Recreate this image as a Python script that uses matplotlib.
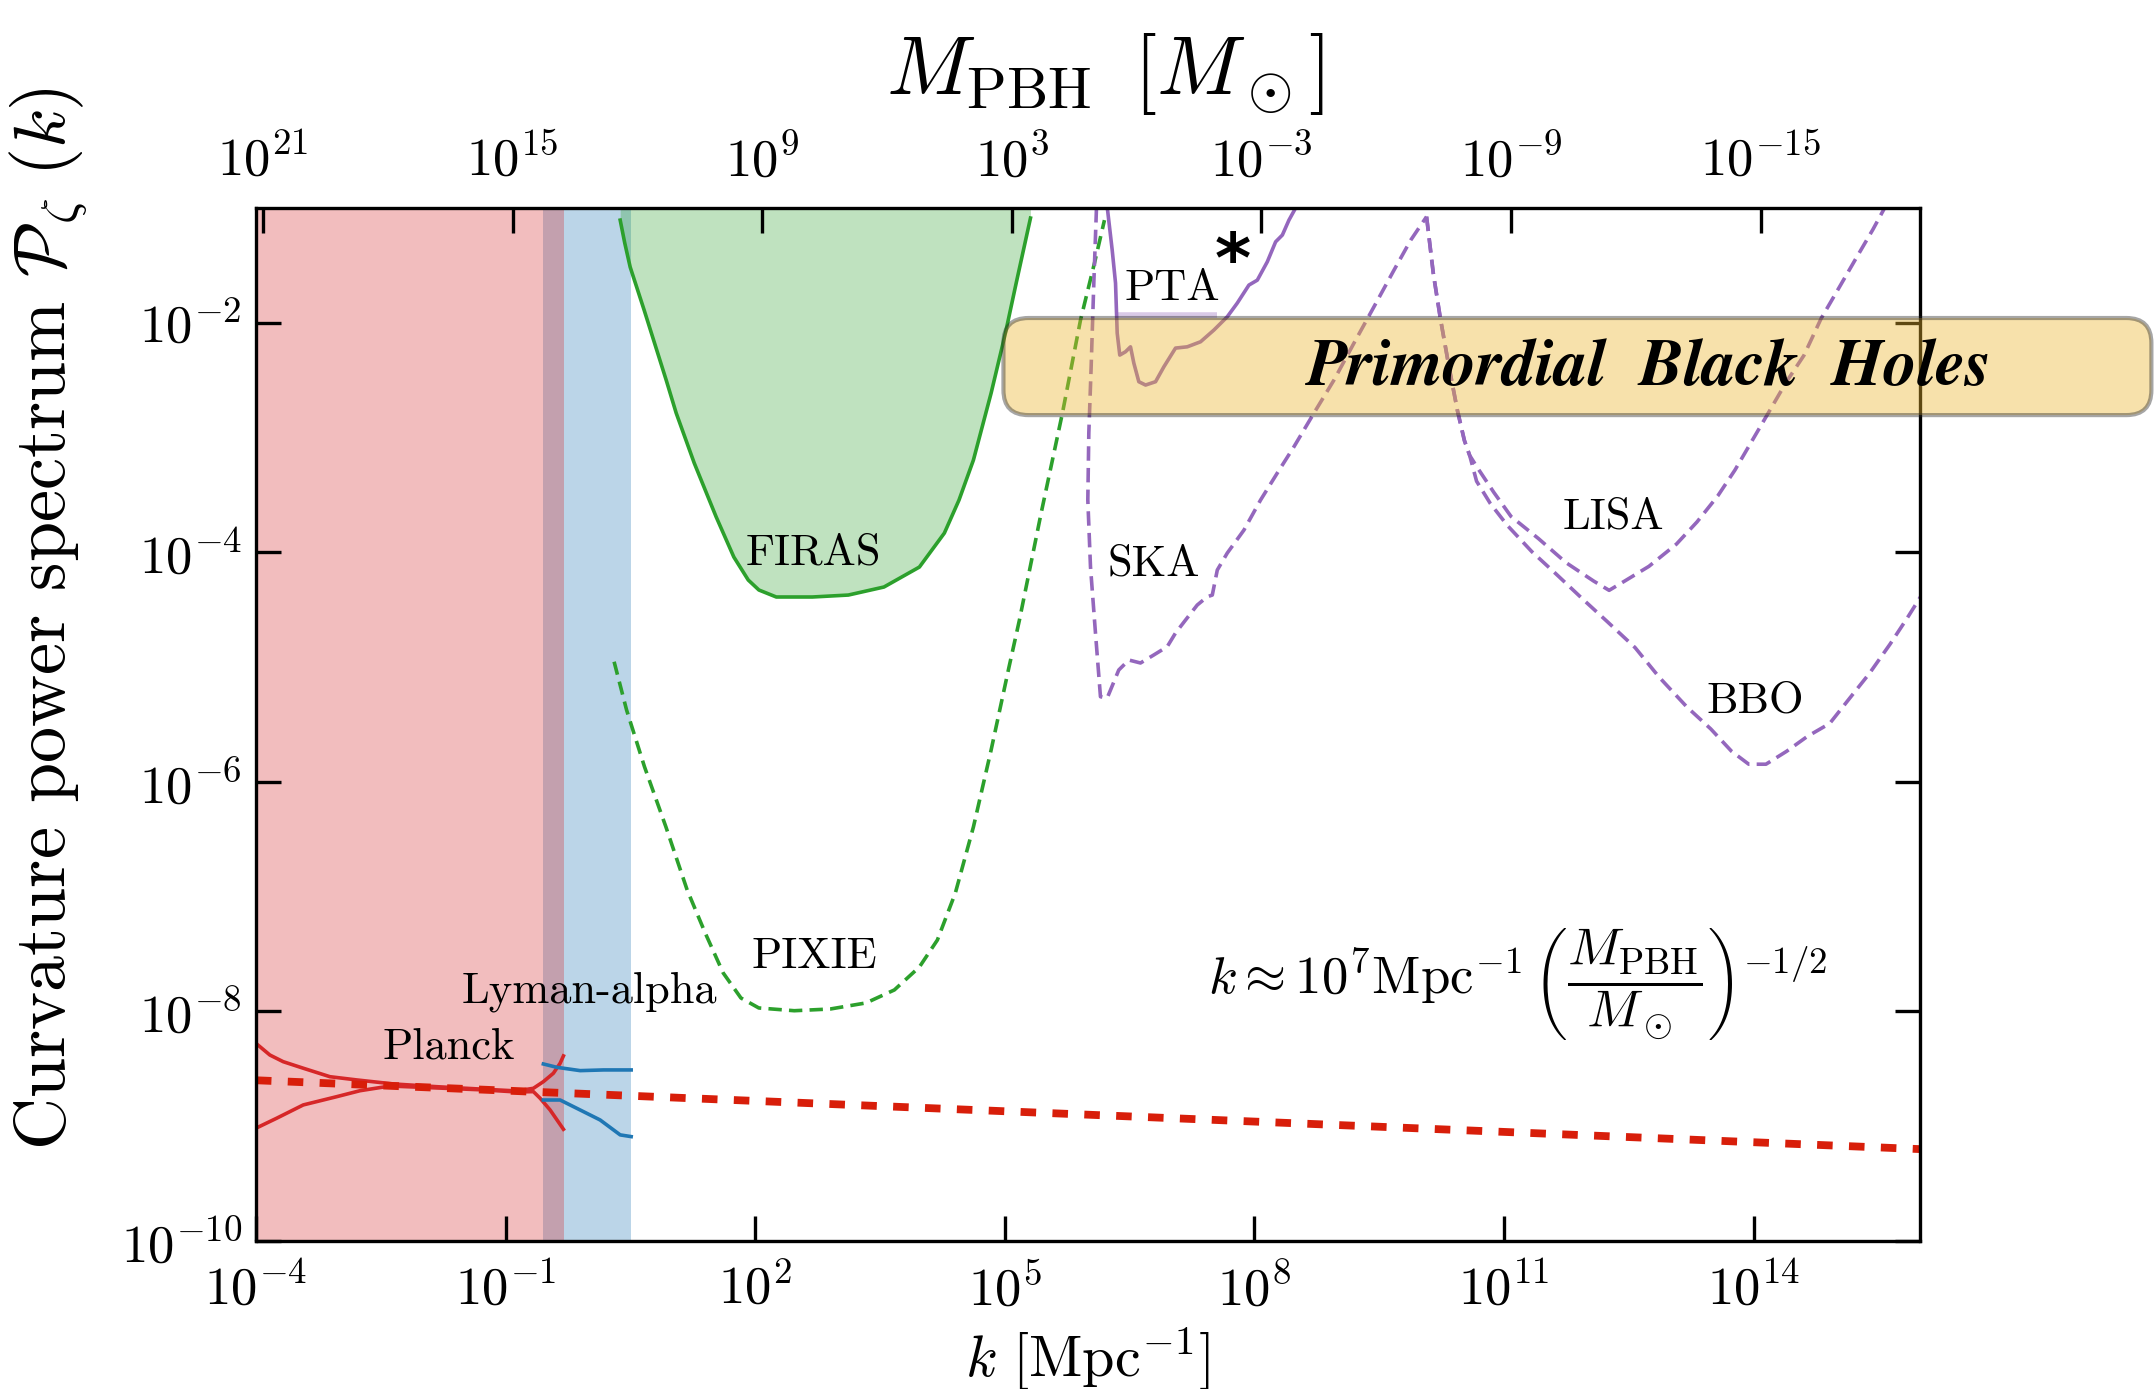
import numpy as np
import matplotlib
matplotlib.use('Agg')
import matplotlib.pyplot as plt
from matplotlib.patches import FancyBboxPatch
from matplotlib.transforms import IdentityTransform
from matplotlib.ticker import NullLocator

plt.rcParams['font.family'] = 'serif'
plt.rcParams['font.serif'] = ['cmr10']
plt.rcParams['mathtext.fontset'] = 'cm'
plt.rcParams['axes.formatter.use_mathtext'] = True

# all values are log10(k / Mpc^-1) and log10(P_zeta)
planck_up_logk = [-4.0, -3.832, -3.672, -3.431, -3.110, -2.789, -2.349, -1.827, -1.266, -0.865, -0.665, -0.545, -0.425, -0.344, -0.304]
planck_up_logp = [-8.278, -8.380, -8.438, -8.495, -8.569, -8.597, -8.632, -8.656, -8.678, -8.693, -8.670, -8.612, -8.539, -8.452, -8.388]
planck_lo_logk = [-4.0, -3.751, -3.431, -3.029, -2.749, -2.388, -1.827, -1.266, -0.865, -0.665, -0.584, -0.464, -0.304]
planck_lo_logp = [-9.018, -8.931, -8.815, -8.743, -8.691, -8.650, -8.667, -8.684, -8.702, -8.699, -8.757, -8.859, -9.027]

lyman_up_logk = [-0.545, -0.384, -0.103, 0.177, 0.510]
lyman_up_logp = [-8.458, -8.487, -8.516, -8.510, -8.510]
lyman_lo_logk = [-0.545, -0.344, -0.103, 0.137, 0.378, 0.510]
lyman_lo_logp = [-8.772, -8.772, -8.859, -8.946, -9.076, -9.091]

planck_span_logk = [-4.0, -0.292]
lyman_span_logk = [-0.545, 0.510]

# nearly scale invariant spectrum (dashed red)
pzeta_logk = [-4.0, 16.0]
pzeta_logp = [-8.60, -9.20]

firas_logk = [0.378, 0.433, 0.498, 0.666, 0.931, 1.051, 1.268, 1.532, 1.744, 1.917, 2.045, 2.254, 2.687,
              3.120, 3.548, 3.974, 4.274, 4.450, 4.623, 4.836, 5.008, 5.137, 5.309]
firas_logp = [-1.105, -1.305, -1.514, -1.889, -2.499, -2.786, -3.222, -3.692, -4.041, -4.241, -4.328, -4.389, -4.389,
              -4.372, -4.302, -4.128, -3.832, -3.544, -3.196, -2.612, -2.089, -1.654, -1.087]

pixie_logk = [0.305, 0.455, 0.670, 0.927, 1.183, 1.400, 1.616, 1.829, 2.044, 2.470, 2.903, 3.333, 3.673,
              3.974, 4.190, 4.406, 4.623, 4.836, 5.051, 5.176, 5.437, 5.693, 5.910, 6.078, 6.198]
pixie_logp = [-4.953, -5.374, -5.868, -6.391, -6.942, -7.317, -7.665, -7.883, -7.970, -7.994, -7.979, -7.926, -7.813,
              -7.613, -7.378, -6.968, -6.393, -5.722, -4.999, -4.590, -3.658, -2.786, -1.976, -1.479, -1.105]

pta_logk = [6.231, 6.291, 6.331, 6.343, 6.351, 6.382, 6.451, 6.511, 6.551, 6.611, 6.692, 6.812, 6.912,
            7.052, 7.193, 7.353, 7.513, 7.674, 7.794, 7.934, 8.035, 8.155, 8.255, 8.336, 8.415, 8.495]
pta_logp = [-0.99, -1.366, -1.654, -1.915, -2.089, -2.281, -2.252, -2.209, -2.351, -2.513, -2.542, -2.513, -2.383,
            -2.220, -2.209, -2.165, -2.063, -1.947, -1.828, -1.671, -1.628, -1.468, -1.294, -1.235, -1.105, -1.000]
pta_bar_logk = [6.36, 7.55]
pta_bar_logp = [-1.93, -1.93]

ska_logk = [6.102, 6.070, 6.038, 6.010, 5.998, 6.030, 6.090, 6.150, 6.231, 6.370, 6.491, 6.631, 6.791, 6.952,
            7.052, 7.172, 7.313, 7.433, 7.494, 7.554, 7.674, 7.874, 8.074, 8.275, 8.475, 8.716, 8.956, 9.197,
            9.437, 9.678, 9.879, 10.069]
ska_logp = [-1.0, -1.654, -2.383, -2.960, -3.544, -4.125, -4.703, -5.258, -5.269, -5.025, -4.938, -4.964, -4.894, -4.822,
            -4.703, -4.590, -4.459, -4.387, -4.372, -4.154, -4.006, -3.806, -3.544, -3.309, -3.080, -2.786, -2.499, -2.176,
            -1.860, -1.540, -1.279, -1.075]

lisa_logk = [10.069, 10.151, 10.235, 10.338, 10.441, 10.524, 10.587, 10.670, 10.877, 11.084, 11.414, 11.746, 12.077,
             12.263, 12.450, 12.741, 13.072, 13.319, 13.568, 13.775, 13.982, 14.190, 14.397, 14.604, 14.811, 15.018,
             15.224, 15.432, 15.577]
lisa_logp = [-1.075, -1.575, -1.962, -2.381, -2.768, -3.026, -3.155, -3.251, -3.477, -3.687, -3.880, -4.090, -4.250,
             -4.331, -4.250, -4.122, -3.928, -3.735, -3.509, -3.283, -3.026, -2.768, -2.510, -2.284, -1.962, -1.704,
             -1.446, -1.188, -0.995]

bbo_logk = [10.069, 10.151, 10.235, 10.338, 10.441, 10.524, 10.587, 10.670, 10.835, 11.042, 11.333, 11.622, 11.953,
            12.243, 12.575, 12.865, 13.196, 13.485, 13.734, 13.941, 14.148, 14.397, 14.645, 14.914, 15.143, 15.390,
            15.640, 15.846, 16.012]
bbo_logp = [-1.075, -1.575, -1.962, -2.381, -2.768, -3.026, -3.155, -3.380, -3.574, -3.767, -3.993, -4.186, -4.412,
            -4.605, -4.830, -5.088, -5.346, -5.539, -5.733, -5.846, -5.846, -5.733, -5.604, -5.491, -5.281, -5.056,
            -4.799, -4.572, -4.380]

# PBH band (box) extent
box_logk = [4.984, 18.78]
box_logp = [-2.804, -1.958]

# k <-> M relation used for the top axis: log10 k = K_MASS - 0.5 log10 M
K_MASS = 6.585

xticks_logk = [-4, -1, 2, 5, 8, 11, 14]
yticks_logp = [-10, -8, -6, -4, -2]
mticks_logm = [21, 15, 9, 3, -3, -9, -15]

# labels: (text, logk, logp baseline)
labels = [
    ('FIRAS', 2.699, -4.110),
    ('PIXIE', 2.708, -7.622),
    ('Lyman-alpha', 0.011, -7.926),
    ('Planck', -1.687, -8.408),
    ('PTA', 7.016, -1.802),
    ('SKA', 6.788, -4.198),
    ('LISA', 12.320, -3.793),
    ('BBO', 14.021, -5.395),
]


def p(v):
    return 10.0 ** np.asarray(v)


fig = plt.figure(figsize=(10.77, 6.945), dpi=200)
ax = fig.add_axes([0.1188, 0.1066, 0.8914 - 0.1188, 0.8502 - 0.1066])
ax.set_xscale('log')
ax.set_yscale('log')
ax.set_xlim(1e-4, 1e16)
ax.set_ylim(1e-10, 1e-1)

# shaded regions
ax.axvspan(*p(lyman_span_logk), color='tab:blue', alpha=0.3, lw=0)
ax.axvspan(*p(planck_span_logk), color='tab:red', alpha=0.3, lw=0)
ax.fill_between(p(firas_logk), p(firas_logp), 1.0, color='tab:green', alpha=0.3, lw=0)

lw = 1.3
ax.plot(p(firas_logk), p(firas_logp), color='tab:green', lw=lw)
ax.plot(p(pixie_logk), p(pixie_logp), color='tab:green', lw=lw, dashes=(3.7, 2.0))

ax.plot(p(planck_up_logk), p(planck_up_logp), color='tab:red', lw=lw)
ax.plot(p(planck_lo_logk), p(planck_lo_logp), color='tab:red', lw=lw)
ax.plot(p(lyman_up_logk), p(lyman_up_logp), color='tab:blue', lw=lw)
ax.plot(p(lyman_lo_logk), p(lyman_lo_logp), color='tab:blue', lw=lw)

ax.plot(p(pta_logk), p(pta_logp), color='tab:purple', lw=lw)
ax.plot(p(pta_bar_logk), p(pta_bar_logp), color='tab:purple', lw=2.0, alpha=0.35, solid_capstyle='butt')
ax.plot(p(ska_logk), p(ska_logp), color='tab:purple', lw=lw, dashes=(4, 2))
ax.plot(p(lisa_logk), p(lisa_logp), color='tab:purple', lw=lw, dashes=(4, 2))
ax.plot(p(bbo_logk), p(bbo_logp), color='tab:purple', lw=lw, dashes=(4, 2))

ax.plot(p(pzeta_logk), p(pzeta_logp), color='#d81e0a', lw=2.8, dashes=(2.0, 2.1))

for txt, lk, lp in labels:
    ax.text(10 ** lk, 10 ** lp, txt, fontsize=16, ha='center', va='baseline')
ax.text(10 ** 7.74, 10 ** -1.47, '*', fontsize=25, fontweight='bold', family='DejaVu Sans',
        ha='center', va='center')

ax.text(10 ** 11.165, 10 ** -7.76,
        r'$k \approx 10^7\mathrm{Mpc}^{-1}\,\left(\dfrac{M_{\rm PBH}}{M_\odot}\right)^{-1/2}$',
        fontsize=19, ha='center', va='center')

# ticks
ax.set_xticks(p(xticks_logk))
ax.set_yticks(p(yticks_logp))
ax.xaxis.set_minor_locator(NullLocator())
ax.yaxis.set_minor_locator(NullLocator())
ax.tick_params(which='major', direction='in', length=9, width=1.2, labelsize=19,
               right=True, top=False)
ax.tick_params(axis='x', pad=8)
ax.tick_params(axis='y', pad=5)
for s in ax.spines.values():
    s.set_linewidth(1.2)

ax.set_xlabel(r'$k\ [\mathrm{Mpc}^{-1}]$', fontsize=21)
ax.xaxis.set_label_coords(0.5, -0.082)
ax.set_ylabel(r'Curvature power spectrum $\mathcal{P}_\zeta\ (k)$', fontsize=26)
ax.yaxis.set_label_coords(-0.100, 0.603)

# top axis in PBH mass
ax2 = ax.twiny()
ax2.set_xscale('log')
ax2.set_xlim(10 ** (2 * (K_MASS + 4)), 10 ** (2 * (K_MASS - 16)))
ax2.set_xticks(p(mticks_logm))
ax2.xaxis.set_minor_locator(NullLocator())
ax2.tick_params(which='major', direction='in', length=9, width=1.2, labelsize=19, pad=8)
for s in ax2.spines.values():
    s.set_visible(False)
ax2.set_xlabel(r'$M_{\rm PBH}\ \,[M_\odot]$', fontsize=30)
ax2.xaxis.set_label_coords(0.51, 1.11)

# PBH band drawn over everything, extends past the axes
(bx0, by0), (bx1, by1) = ax.transData.transform([(10 ** box_logk[0], 10 ** box_logp[0]),
                                                  (10 ** box_logk[1], 10 ** box_logp[1])])
box = FancyBboxPatch((bx0, by0), bx1 - bx0, by1 - by0,
                     boxstyle='round,pad=0,rounding_size=25', transform=IdentityTransform(),
                     facecolor=(0.93, 0.71, 0.18), edgecolor='#222222', lw=1.5, alpha=0.4, zorder=5)
fig.add_artist(box)
fig.text(10 ** 12.753, 10 ** -2.40, 'Primordial  Black  Holes', transform=ax.transData,
         family='STIXGeneral', style='italic', weight='bold', fontsize=24,
         ha='center', va='center', zorder=6)

fig.savefig('out.png', dpi=200)
